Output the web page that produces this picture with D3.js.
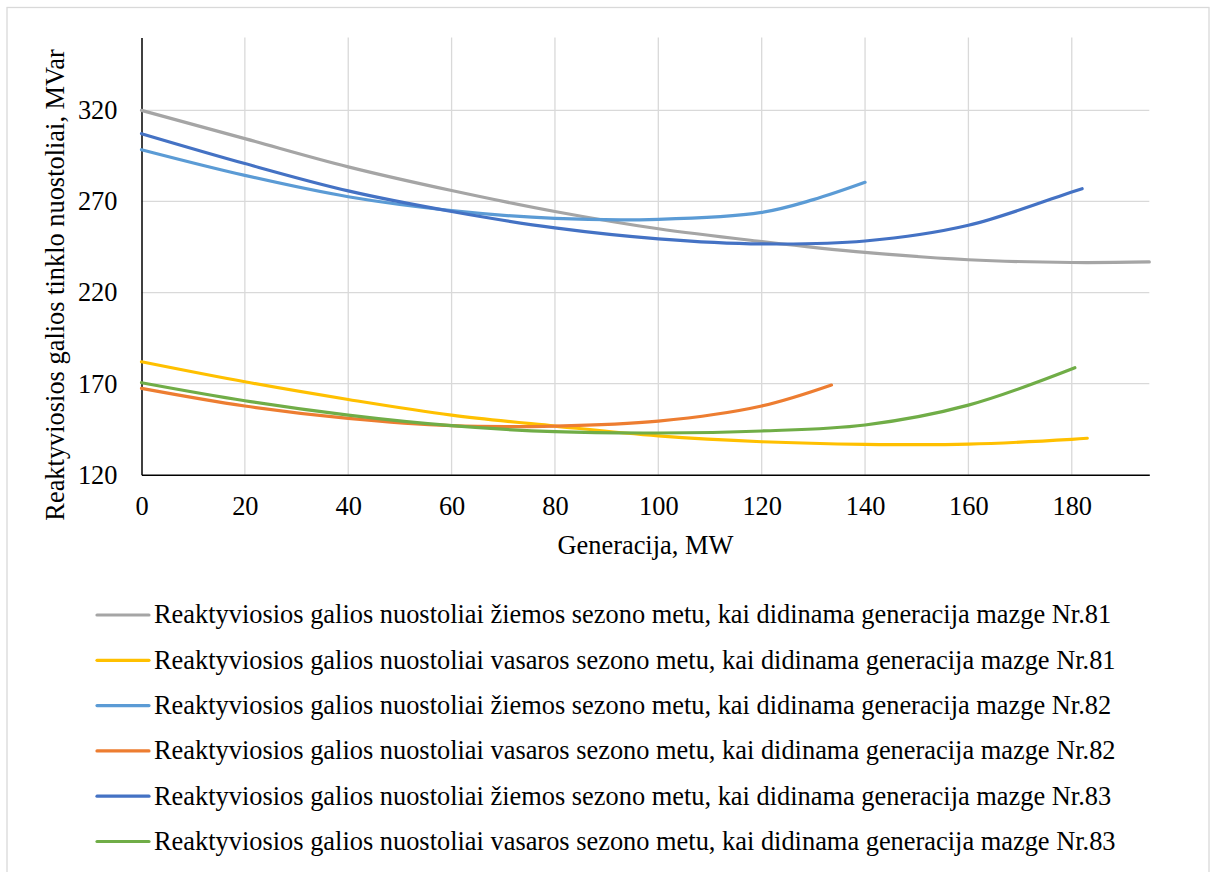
<!DOCTYPE html>
<html>
<head>
<meta charset="utf-8">
<script src="https://cdn.jsdelivr.net/npm/d3@7"></script>
<style>
  html, body { margin: 0; padding: 0; background: #ffffff; }
  svg { display: block; }
</style>
</head>
<body>
<svg id="chart" width="1214" height="872"></svg>
<script>
// Generation at the node, MW, and reactive power losses, MVar
const genGray   = [0, 20, 40, 60, 80, 100, 120, 140, 160, 180, 195];
const lossGray  = [320, 304.5, 289, 276, 264.5, 255, 248, 242, 238, 236.5, 236.8];

const genYellow  = [0, 20, 40, 60, 80, 100, 120, 140, 160, 180, 183];
const lossYellow = [182, 171, 161.3, 152.7, 146.7, 141.3, 138.1, 136.7, 136.8, 139.4, 140];

const genLightBlue  = [0, 20, 40, 60, 80, 100, 120, 130, 140];
const lossLightBlue = [298.4, 284.3, 272.6, 265, 260.7, 260.2, 264, 271, 280.5];

const genOrange  = [0, 20, 40, 60, 80, 100, 120, 133.5];
const lossOrange = [167.4, 157.7, 150.9, 146.9, 146.7, 149.4, 157.7, 169.2];

const genBlue  = [0, 20, 40, 60, 80, 100, 120, 140, 160, 180, 182];
const lossBlue = [307.2, 290.8, 275.8, 264.5, 255.5, 249.5, 246.7, 248.3, 256.9, 275.2, 277];

const genGreen  = [0, 20, 40, 60, 80, 100, 120, 140, 160, 180.6];
const lossGreen = [170.5, 160.6, 152.7, 146.9, 143.6, 142.9, 144, 147.3, 158.2, 178.7];

const seriesNames = [
  "Reaktyviosios galios nuostoliai žiemos sezono metu, kai didinama generacija mazge Nr.81",
  "Reaktyviosios galios nuostoliai vasaros sezono metu, kai didinama generacija mazge Nr.81",
  "Reaktyviosios galios nuostoliai žiemos sezono metu, kai didinama generacija mazge Nr.82",
  "Reaktyviosios galios nuostoliai vasaros sezono metu, kai didinama generacija mazge Nr.82",
  "Reaktyviosios galios nuostoliai žiemos sezono metu, kai didinama generacija mazge Nr.83",
  "Reaktyviosios galios nuostoliai vasaros sezono metu, kai didinama generacija mazge Nr.83"
];
const seriesColors = ["#A5A5A5", "#FFC000", "#5B9BD5", "#ED7D31", "#4472C4", "#70AD47"];

const xTicks = [0, 20, 40, 60, 80, 100, 120, 140, 160, 180];
const yTicks = [120, 170, 220, 270, 320];

const xTitle = "Generacija, MW";
const yTitle = "Reaktyviosios galios tinklo nuostoliai, MVar";

const FONT = '"Liberation Serif"';
const FS = 26.4;

const seriesData = [
  [genGray, lossGray],
  [genYellow, lossYellow],
  [genLightBlue, lossLightBlue],
  [genOrange, lossOrange],
  [genBlue, lossBlue],
  [genGreen, lossGreen]
].map(([xs, ys], i) => ({
  name: seriesNames[i],
  color: seriesColors[i],
  points: xs.map((x, j) => ({ x, y: ys[j] }))
}));

const svg = d3.select("#chart");

// chart frame
svg.append("rect")
  .attr("x", 7).attr("y", 7.5)
  .attr("width", 1202).attr("height", 900)
  .attr("fill", "#fff").attr("stroke", "#d9d9d9").attr("stroke-width", 1.3);

const plot = { left: 141.5, right: 1149.3, top: 37.5, bottom: 474.7 };

const x = d3.scaleLinear().domain([0, 195]).range([plot.left, plot.right]);
const y = d3.scaleLinear().domain([120, 360]).range([plot.bottom, plot.top]);

// vertical gridlines
svg.append("g")
  .selectAll("line")
  .data(xTicks.filter(d => d > 0))
  .join("line")
  .attr("x1", d => x(d)).attr("x2", d => x(d))
  .attr("y1", plot.top).attr("y2", plot.bottom)
  .attr("stroke", "#d9d9d9").attr("stroke-width", 1.3);

// horizontal gridlines
svg.append("g")
  .selectAll("line")
  .data(yTicks.filter(d => d > 120))
  .join("line")
  .attr("x1", plot.left).attr("x2", plot.right)
  .attr("y1", d => y(d)).attr("y2", d => y(d))
  .attr("stroke", "#d9d9d9").attr("stroke-width", 1.3);

// axes
const xAxis = d3.axisBottom(x).tickValues(xTicks).tickSize(0).tickPadding(22);
const gx = svg.append("g").attr("transform", `translate(0,${plot.bottom})`).call(xAxis);
gx.attr("font-family", null).attr("font-size", null);
gx.select(".domain").attr("stroke", "#000").attr("stroke-width", 1.5);
gx.selectAll("text")
  .style("font-family", FONT).style("font-size", FS + "px").attr("fill", "#000")
  .attr("dy", "0.68em");

const yAxis = d3.axisLeft(y).tickValues(yTicks).tickSize(0).tickPadding(24);
const gy = svg.append("g").attr("transform", `translate(${plot.left},0)`).call(yAxis);
gy.attr("font-family", null).attr("font-size", null);
gy.select(".domain").attr("stroke", "#000").attr("stroke-width", 1.5);
gy.selectAll("text")
  .style("font-family", FONT).style("font-size", FS + "px").attr("fill", "#000")
  .attr("dy", "0.32em");

// series lines (smoothed)
const line = d3.line()
  .x(d => x(d.x))
  .y(d => y(d.y))
  .curve(d3.curveCatmullRom.alpha(0.5));

svg.append("g")
  .selectAll("path")
  .data(seriesData)
  .join("path")
  .attr("d", d => line(d.points))
  .attr("fill", "none")
  .attr("stroke", d => d.color)
  .attr("stroke-width", 3.2)
  .attr("stroke-linecap", "round");

// axis titles
svg.append("text")
  .attr("x", (plot.left + plot.right) / 2)
  .attr("y", 554)
  .attr("text-anchor", "middle")
  .style("font-family", FONT).style("font-size", FS + "px")
  .text(xTitle);

svg.append("text")
  .attr("transform", "translate(63.5,285) rotate(-90)")
  .attr("text-anchor", "middle")
  .style("font-family", FONT).style("font-size", FS + "px")
  .text(yTitle);

// legend
const legend = svg.append("g");
const rowY = d3.scaleLinear().domain([0, 5]).range([615, 841.5]);
const rows = legend.selectAll("g")
  .data(seriesData)
  .join("g")
  .attr("transform", (d, i) => `translate(0,${rowY(i)})`);
rows.append("line")
  .attr("x1", 97).attr("x2", 149)
  .attr("y1", 0).attr("y2", 0)
  .attr("stroke", d => d.color)
  .attr("stroke-width", 3.2)
  .attr("stroke-linecap", "round");
rows.append("text")
  .attr("x", 154)
  .attr("y", 0)
  .attr("dy", "0.32em")
  .style("font-family", FONT).style("font-size", FS + "px")
  .text(d => d.name);
</script>
</body>
</html>
